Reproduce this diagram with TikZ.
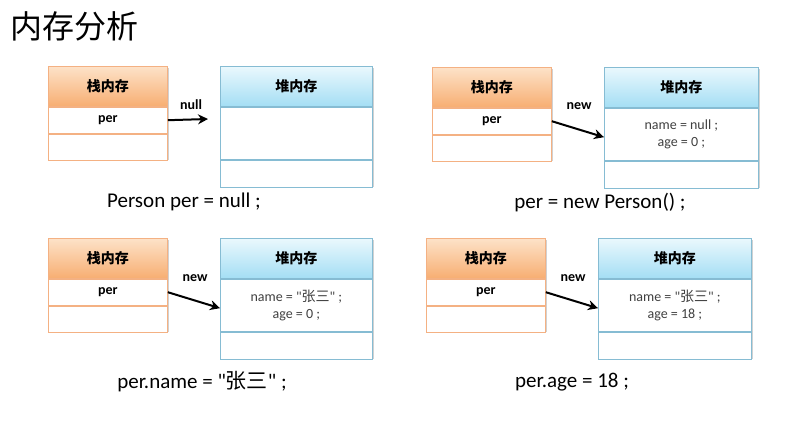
\documentclass[tikz,border=0pt]{standalone}
\usepackage{fontspec}
\setmainfont{Carlito}[Ligatures=TeXOff]
\newfontfamily\cjk{Noto Sans CJK SC}
\usetikzlibrary{arrows.meta}
\definecolor{stackborder}{HTML}{F4B183}
\definecolor{stacktop}{HTML}{FDE2C8}
\definecolor{stackbot}{HTML}{F7AE72}
\definecolor{heapborder}{HTML}{86BCD3}
\definecolor{heaptop}{HTML}{EAF8FD}
\definecolor{heapbot}{HTML}{A4DEF4}
\definecolor{bodytext}{HTML}{404040}
\tikzset{
  stackhd/.style={draw=stackborder, line width=0.8pt, top color=stacktop, bottom color=stackbot,
    minimum width=119, minimum height=40, inner sep=0, anchor=north west,
    font=\cjk\bfseries\fontsize{14}{14}\selectfont},
  stackrow/.style={draw=stackborder, line width=0.8pt, fill=white, minimum width=119,
    minimum height=26, inner sep=0, anchor=north, font=\bfseries\fontsize{14}{14}\selectfont},
  heaphd/.style={draw=heapborder, line width=0.8pt, top color=heaptop, bottom color=heapbot,
    minimum height=40, inner sep=0, anchor=north west,
    font=\cjk\bfseries\fontsize{14}{14}\selectfont},
  heaprow/.style={draw=heapborder, line width=0.8pt, fill=white, inner sep=0, anchor=north,
    align=center, text=bodytext, font=\fontsize{14}{17}\selectfont},
  shade/.style={fill=black!18},
  ptr/.style={line width=2pt, -{Stealth[length=10pt,width=10pt]}},
  lbl/.style={font=\bfseries\fontsize{14}{14}\selectfont},
  caption/.style={font=\fontsize{21}{21}\selectfont}
}
\newcommand\mempanel[6]{%
  \fill[shade] ({#2+2},{#3+2}) rectangle ({#2+121},{#3+94});
  \fill[shade] ({#4+2},{#3+2}) rectangle ({#4+#5+2},{#3+121});
  \node[stackhd] (#1sh) at (#2,#3) {栈内存};
  \node[stackrow] (#1sp) at (#1sh.south) {per};
  \node[stackrow] (#1se) at (#1sp.south) {};
  \node[heaphd, minimum width=#5] (#1hh) at (#4,#3) {堆内存};
  \node[heaprow, minimum width=#5, minimum height=52] (#1hc) at (#1hh.south) {#6};
  \node[heaprow, minimum width=#5, minimum height=27] (#1he) at (#1hc.south) {};
}
\begin{document}
\begin{tikzpicture}[x=1pt,y=-1pt]
\fill[white] (0,0) rectangle (785,423);
\useasboundingbox (0,0) rectangle (785,423);

\node[anchor=west, inner sep=0, font=\cjk\fontsize{32}{32}\selectfont] (title) at (10,26) {内存分析};

% panel 1
\mempanel{a}{48}{66}{220}{152}{}
\coordinate (aend) at (208,119);
\draw[ptr] (asp.east) -- (aend);
\node[lbl] (alab) at (191,105) {null};
\node[caption] (acap) at (184,202) {Person per = null ;};

% panel 2
\mempanel{b}{432}{67}{604}{154}{name = null ;\\ age = 0 ;}
\draw[ptr] (bsp.east) -- ([yshift=-3pt]bhc.west);
\node[lbl] (blab) at (579,106) {new};
\node[caption] (bcap) at (600,203) {per = new Person() ;};

% panel 3
\mempanel{c}{48}{238}{220}{152}{name = "{\cjk 张三}" ;\\ age = 0 ;}
\draw[ptr] (csp.east) -- ([yshift=-3pt]chc.west);
\node[lbl] (clab) at (195,278) {new};
\node[caption] (ccap) at (202,382) {per.name = "{\cjk 张三}" ;};

% panel 4
\mempanel{d}{426}{238}{598}{153}{name = "{\cjk 张三}" ;\\ age = 18 ;}
\draw[ptr] (dsp.east) -- ([yshift=-3pt]dhc.west);
\node[lbl] (dlab) at (573,278) {new};
\node[caption] (dcap) at (572,382) {per.age = 18 ;};
\end{tikzpicture}
\end{document}
